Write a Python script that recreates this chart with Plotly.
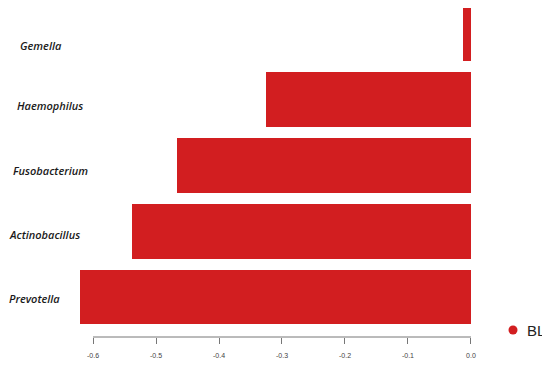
import plotly.graph_objects as go

genera = ["Prevotella", "Actinobacillus", "Fusobacterium", "Haemophilus", "Gemella"]
values = [-0.621, -0.538, -0.467, -0.325, -0.013]
tick_vals = [-0.6, -0.5, -0.4, -0.3, -0.2, -0.1, 0.0]
tick_text = ["-0.6", "-0.5", "-0.4", "-0.3", "-0.2", "-0.1", "0.0"]
series_name = "BL"

RED = "rgb(210,30,32)"
OFF = 8  # page body margin
W, H = 550 - OFF, 366 - OFF
L, R, T, B = 52, 60, 0, 29
pw = W - L - R
ph = H - T - B

fig = go.Figure()
fig.add_trace(go.Bar(
    y=list(range(len(genera))), x=values, orientation="h",
    marker=dict(color=RED, line=dict(width=0)),
    width=0.833, showlegend=False, hoverinfo="x", name=series_name,
))

# genus labels (italic, left of plot)
label_left_px = [7, 7, 11, 15, 18]
label_shift = [-1, -3, -5, -6, -12]
for i, g in enumerate(genera):
    fig.add_annotation(
        x=(label_left_px[i] - OFF - L) / pw, xref="paper", xanchor="left",
        y=i, yref="y", yshift=label_shift[i], yanchor="middle",
        text=g, showarrow=False,
        font=dict(family="Open Sans", size=11, color="#1a1a1a", style="italic", weight=600),
    )

# R-style axis line spanning the tick range
fig.add_shape(type="line", xref="x", yref="paper",
              x0=min(tick_vals), x1=max(tick_vals), y0=0, y1=0,
              line=dict(color="#777777", width=1))

# legend key: red dot + series name
leg_x = (513 - OFF - L) / pw
leg_y = (ph - (330 - OFF - T)) / ph
fig.add_shape(type="circle", xref="paper", yref="paper",
              xsizemode="pixel", ysizemode="pixel",
              xanchor=leg_x, yanchor=leg_y, x0=-4.5, x1=4.5, y0=-4.5, y1=4.5,
              fillcolor=RED, line=dict(width=0))
fig.add_annotation(x=(525 - OFF - L) / pw, y=leg_y, xref="paper", yref="paper",
                   xanchor="left", yanchor="middle", text=series_name, showarrow=False,
                   font=dict(family="Liberation Sans", size=15, color="#222222"))

fig.update_layout(
    width=W, height=H, margin=dict(l=L, r=R, t=T, b=B, autoexpand=False),
    plot_bgcolor="white", paper_bgcolor="white",
    bargap=0, showlegend=False,
    xaxis=dict(range=[-0.6524, 0.0302], tickvals=tick_vals, ticktext=tick_text,
               showgrid=False, zeroline=False, showline=False,
               ticks="outside", ticklen=6, tickcolor="#777777", ticklabelstandoff=6,
               tickfont=dict(family="Liberation Sans", size=7, color="#444444")),
    yaxis=dict(range=[-0.606, 4.379], showticklabels=False, showgrid=False,
               zeroline=False, showline=False),
)

fig.write_html("out.html")
